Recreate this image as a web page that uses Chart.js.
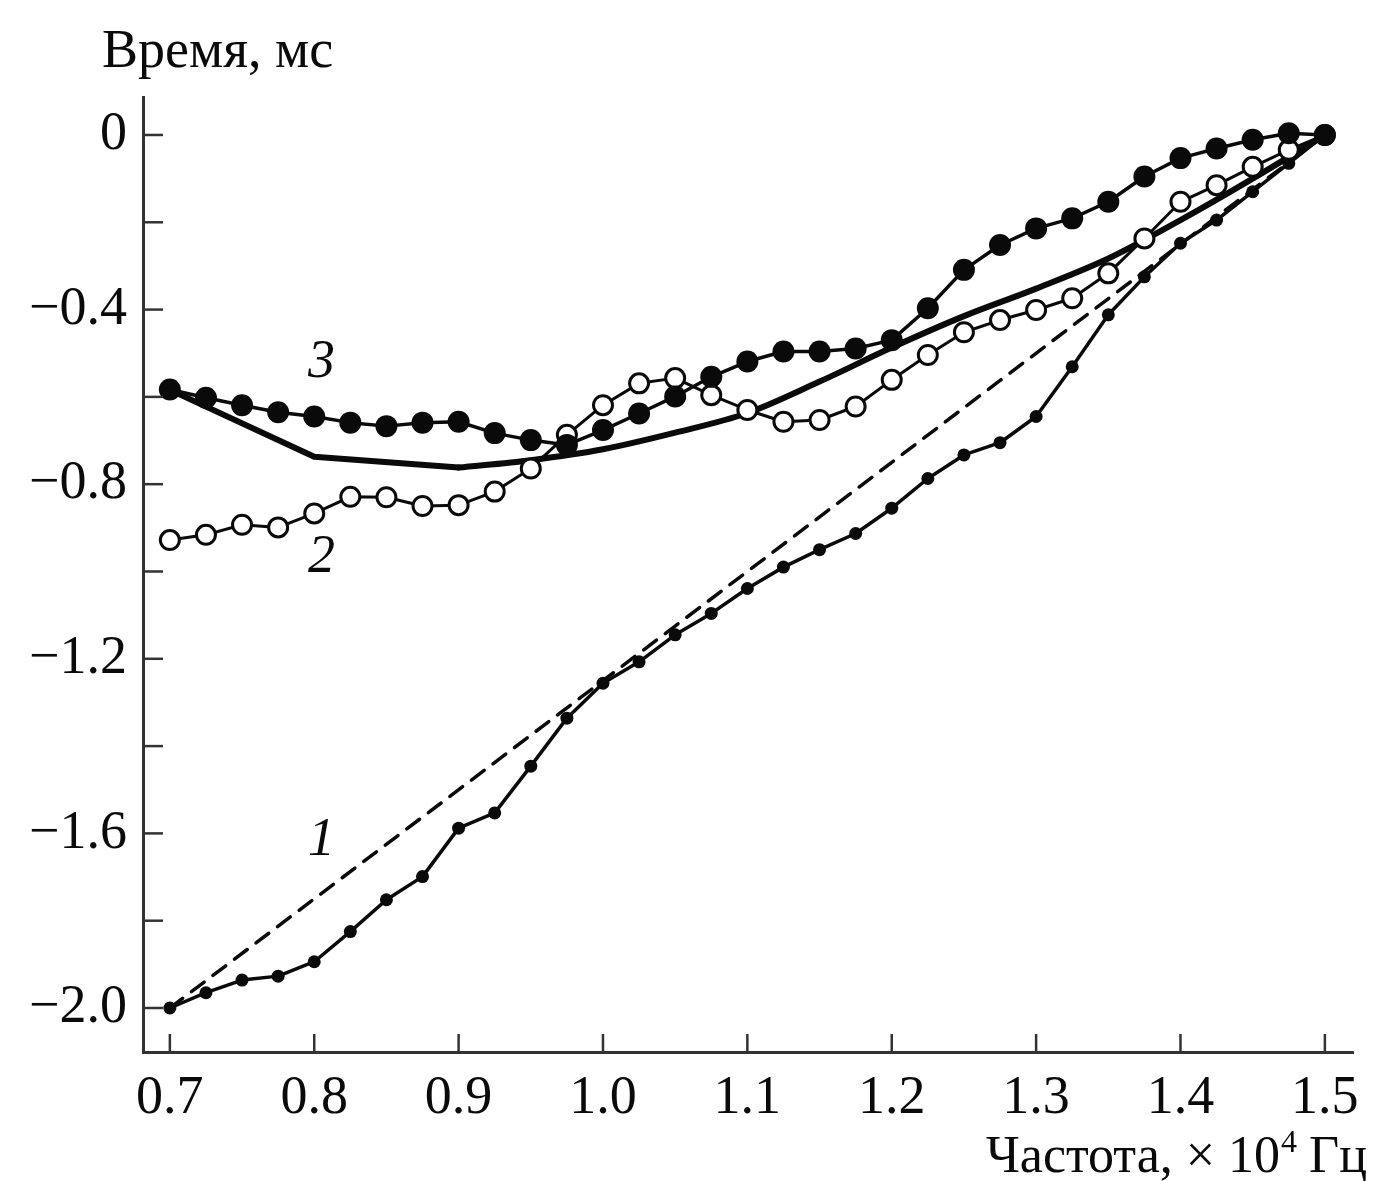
<!DOCTYPE html>
<html>
<head>
<meta charset="utf-8">
<script src="https://cdn.jsdelivr.net/npm/chart.js@4.4.1/dist/chart.umd.min.js"></script>
<style>
  html, body { margin: 0; padding: 0; background: #fff; }
  #wrap { width: 1373px; height: 1181px; position: relative; }
</style>
</head>
<body>
<div id="wrap"><canvas id="chart"></canvas></div>
<script>
// Frequency grid of the measured curves (x 10^4 Hz)
const freq = [0.7, 0.725, 0.75, 0.775, 0.8, 0.825, 0.85, 0.875, 0.9, 0.925, 0.95, 0.975,
  1.0, 1.025, 1.05, 1.075, 1.1, 1.125, 1.15, 1.175, 1.2, 1.225, 1.25, 1.275,
  1.3, 1.325, 1.35, 1.375, 1.4, 1.425, 1.45, 1.475, 1.5];

// Curve 1 (small dots)
const time1 = [-2.0, -1.965, -1.936, -1.927, -1.894, -1.825, -1.752, -1.699, -1.588, -1.553, -1.446, -1.336,
  -1.256, -1.207, -1.145, -1.096, -1.039, -0.99, -0.95, -0.913, -0.855, -0.787, -0.733, -0.705,
  -0.645, -0.531, -0.412, -0.325, -0.248, -0.195, -0.13, -0.065, 0.0];

// Curve 2 (open circles)
const time2 = [-0.928, -0.916, -0.893, -0.899, -0.867, -0.829, -0.83, -0.85, -0.848, -0.817, -0.764, -0.687,
  -0.619, -0.569, -0.557, -0.596, -0.63, -0.657, -0.653, -0.622, -0.561, -0.504, -0.452, -0.424,
  -0.401, -0.374, -0.317, -0.237, -0.153, -0.115, -0.073, -0.034, 0.0];

// Curve 3 (filled circles)
const time3 = [-0.583, -0.602, -0.619, -0.635, -0.645, -0.659, -0.667, -0.659, -0.657, -0.683, -0.699, -0.71,
  -0.676, -0.638, -0.599, -0.554, -0.519, -0.496, -0.496, -0.489, -0.47, -0.397, -0.309, -0.252,
  -0.214, -0.191, -0.153, -0.095, -0.053, -0.031, -0.011, 0.004, 0.0];

// Thick solid curve: straight part, then smooth part
const thickFreqA = [0.7, 0.8, 0.9];
const thickTimeA = [-0.584, -0.737, -0.762];
const thickFreqB = [0.9, 0.95, 1.0, 1.05, 1.1, 1.15, 1.2, 1.25, 1.3, 1.35, 1.4, 1.45, 1.5];
const thickTimeB = [-0.762, -0.745, -0.72, -0.682, -0.637, -0.565, -0.487, -0.415, -0.352, -0.283, -0.195, -0.1, 0.0];

// Dashed straight line
const dashFreq = [0.7, 1.5];
const dashTime = [-2.0, 0.0];

// Axis ticks
const xTicks = [0.7, 0.8, 0.9, 1.0, 1.1, 1.2, 1.3, 1.4, 1.5];
const yTicks = [-2.0, -1.8, -1.6, -1.4, -1.2, -1.0, -0.8, -0.6, -0.4, -0.2, 0.0];
const yLabelled = [-2.0, -1.6, -1.2, -0.8, -0.4, 0.0];

// Curve numbers
const curveNames = ['1', '2', '3'];
const curveNameX = [0.805, 0.805, 0.805];
const curveNameY = [-1.617, -0.969, -0.522];

const INK = '#0a0a0a';
const SERIF = "'Liberation Serif', 'DejaVu Serif', serif";

const pts = (xs, ys) => xs.map((x, i) => ({ x: x, y: ys[i] }));

// inward tick marks, curve numbers and axis titles
const decorPlugin = {
  id: 'decor',
  afterDraw(chart) {
    const ctx = chart.ctx;
    const xs = chart.scales.x, ys = chart.scales.y;
    const area = chart.chartArea;
    ctx.save();
    ctx.strokeStyle = '#333';
    ctx.lineWidth = 2.5;
    xTicks.forEach(v => {
      const px = xs.getPixelForValue(v);
      ctx.beginPath();
      ctx.moveTo(px, area.bottom);
      ctx.lineTo(px, area.bottom - 18);
      ctx.stroke();
    });
    yTicks.forEach(v => {
      const py = ys.getPixelForValue(v);
      ctx.beginPath();
      ctx.moveTo(area.left, py);
      ctx.lineTo(area.left + 20, py);
      ctx.stroke();
    });

    ctx.fillStyle = INK;
    ctx.font = 'italic 54px ' + SERIF;
    ctx.textAlign = 'center';
    ctx.textBaseline = 'middle';
    curveNames.forEach((t, i) => {
      ctx.fillText(t, xs.getPixelForValue(curveNameX[i]), ys.getPixelForValue(curveNameY[i]));
    });

    ctx.font = '54px ' + SERIF;
    ctx.textAlign = 'left';
    ctx.textBaseline = 'alphabetic';
    ctx.fillText('Время, мс', 102, 67);

    const partA = 'Частота, × 10';
    const partB = '4';
    const partC = ' Гц';
    ctx.font = '52px ' + SERIF;
    const wA = ctx.measureText(partA).width;
    const wC = ctx.measureText(partC).width;
    ctx.font = '32px ' + SERIF;
    const wB = ctx.measureText(partB).width;
    const right = 1367, base = 1172;
    const x0 = right - wA - wB - wC;
    ctx.font = '52px ' + SERIF;
    ctx.fillText(partA, x0, base);
    ctx.font = '32px ' + SERIF;
    ctx.fillText(partB, x0 + wA + 1, base - 20);
    ctx.font = '52px ' + SERIF;
    ctx.fillText(partC, x0 + wA + wB, base);
    ctx.restore();
  }
};

const ctx = document.getElementById('chart').getContext('2d');
new Chart(ctx, {
  type: 'line',
  data: {
    datasets: [
      {
        label: '3',
        data: pts(freq, time3),
        borderColor: INK,
        borderWidth: 3.5,
        pointRadius: 11,
        pointBackgroundColor: INK,
        pointBorderWidth: 0,
        order: 0
      },
      {
        label: '2',
        data: pts(freq, time2),
        borderColor: INK,
        borderWidth: 3,
        pointRadius: 9.5,
        pointBackgroundColor: '#fff',
        pointBorderColor: INK,
        pointBorderWidth: 3,
        order: 1
      },
      {
        label: 'theory',
        data: pts(thickFreqA, thickTimeA),
        borderColor: INK,
        borderWidth: 6,
        pointRadius: 0,
        order: 2
      },
      {
        label: 'theory smooth',
        data: pts(thickFreqB, thickTimeB),
        borderColor: INK,
        borderWidth: 6,
        pointRadius: 0,
        cubicInterpolationMode: 'monotone',
        order: 2
      },
      {
        label: '1',
        data: pts(freq, time1),
        borderColor: INK,
        borderWidth: 3.5,
        pointRadius: 6.5,
        pointBackgroundColor: INK,
        pointBorderWidth: 0,
        order: 3
      },
      {
        label: 'linear',
        data: pts(dashFreq, dashTime),
        borderColor: INK,
        borderWidth: 3.5,
        borderDash: [16, 11],
        pointRadius: 0,
        order: 4
      }
    ]
  },
  options: {
    responsive: true,
    maintainAspectRatio: false,
    animation: false,
    devicePixelRatio: 1,
    layout: { padding: { top: 97, right: 16, left: 0, bottom: 0 } },
    plugins: {
      legend: { display: false },
      tooltip: { enabled: false }
    },
    elements: { line: { tension: 0, borderCapStyle: 'round', borderJoinStyle: 'round' } },
    scales: {
      x: {
        type: 'linear',
        min: 0.6814,
        max: 1.5198,
        afterBuildTicks: axis => { axis.ticks = xTicks.map(v => ({ value: v })); },
        afterFit: axis => { axis.height = 129; },
        grid: { drawOnChartArea: false, drawTicks: false },
        border: { display: true, color: '#333', width: 3 },
        ticks: {
          autoSkip: false,
          maxRotation: 0,
          padding: 14,
          color: INK,
          font: { family: SERIF, size: 54 },
          callback: v => v.toFixed(1)
        }
      },
      y: {
        type: 'linear',
        min: -2.1008,
        max: 0.087,
        afterBuildTicks: axis => { axis.ticks = yTicks.map(v => ({ value: v })); },
        afterFit: axis => { axis.width = 143; },
        grid: { drawOnChartArea: false, drawTicks: false },
        border: { display: true, color: '#333', width: 3 },
        ticks: {
          autoSkip: false,
          padding: 16,
          color: INK,
          font: { family: SERIF, size: 54 },
          callback: v => {
            const r = Math.round(v * 10) / 10;
            if (!yLabelled.some(l => Math.abs(l - r) < 1e-6)) return '';
            return r === 0 ? '0' : '\u2212' + Math.abs(r).toFixed(1);
          }
        }
      }
    }
  },
  plugins: [decorPlugin]
});
</script>
</body>
</html>
